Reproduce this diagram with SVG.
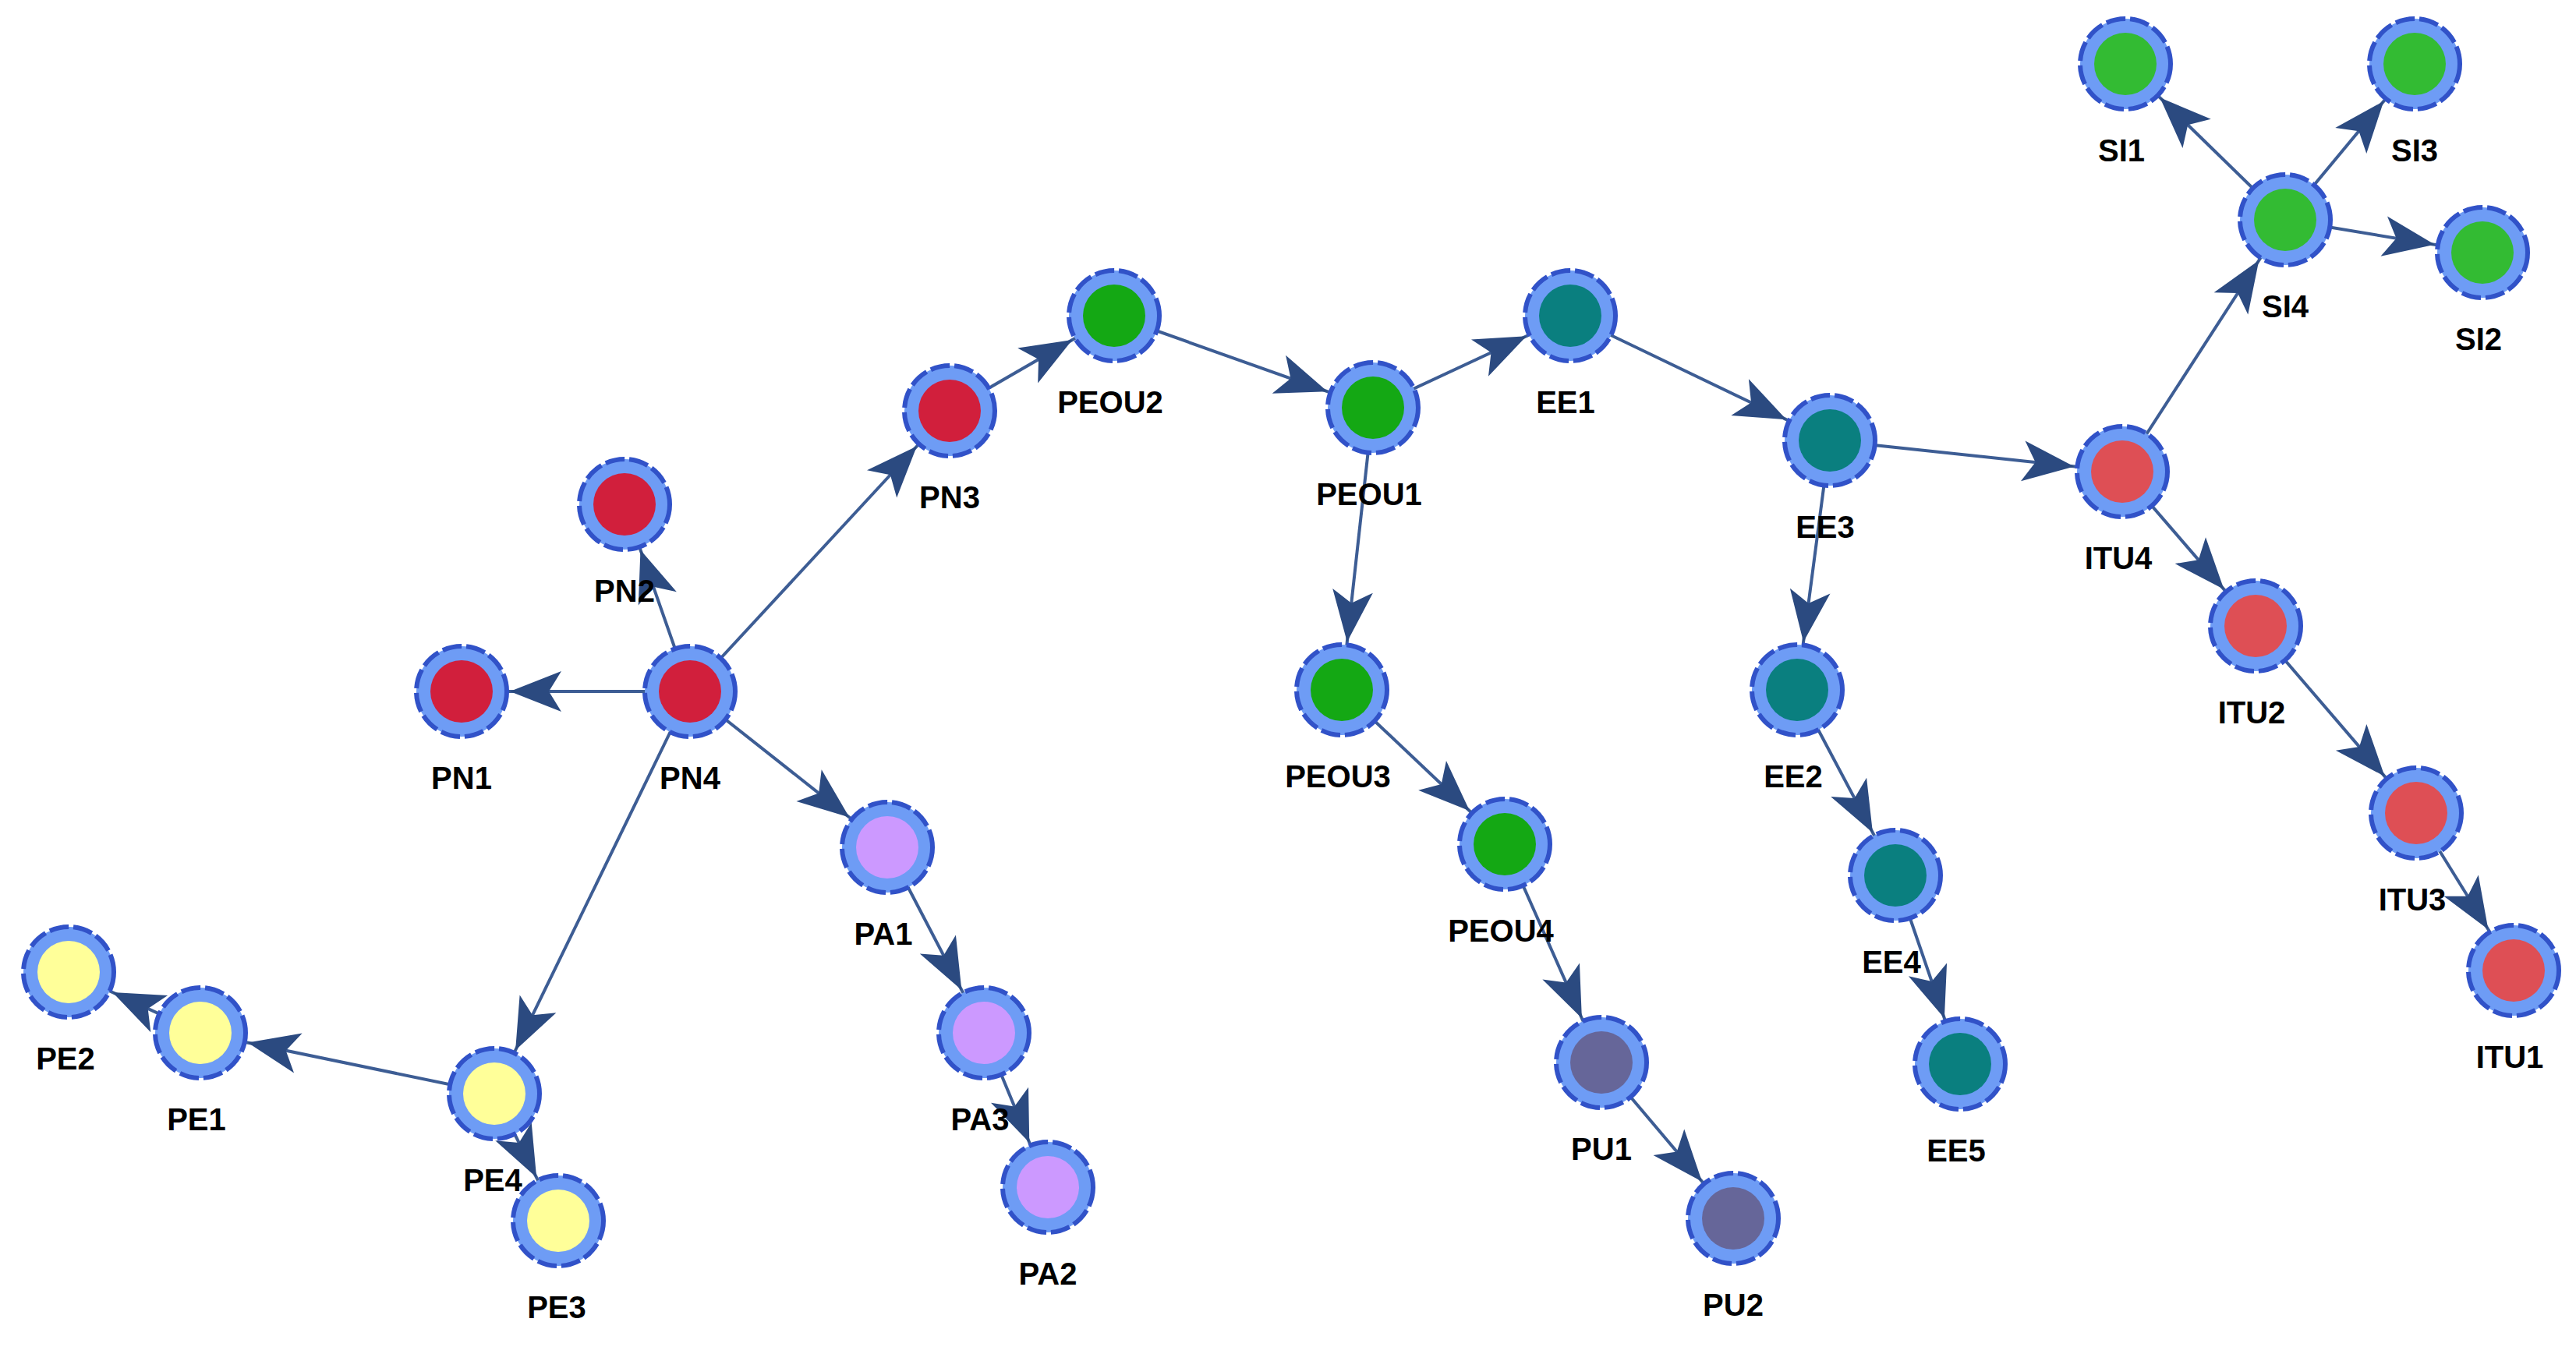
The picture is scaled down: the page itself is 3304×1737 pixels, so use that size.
<svg xmlns="http://www.w3.org/2000/svg" width="3304" height="1737" viewBox="0 0 3304 1737">
<style>
.e{stroke:#3d5d94;stroke-width:4;fill:none;marker-end:url(#a)}
.o{fill:#6e9cf5;stroke:#3152c8;stroke-width:6;stroke-dasharray:25 6}
.t{font-family:"Liberation Sans",Arial,sans-serif;font-weight:bold;font-size:40px;text-anchor:middle;fill:#000}
</style>
<defs>
<marker id="a" markerUnits="userSpaceOnUse" markerWidth="10" markerHeight="10" orient="auto" overflow="visible" refX="0" refY="0">
<path d="M-128,-26 L-62,0 L-128,26 L-112,0 Z" fill="#2b4a80"/>
</marker>
<symbol id="n" overflow="visible"><circle class="o" r="58"/></symbol>
</defs>
<rect width="3304" height="1737" fill="#fff"/>
<g id="connectors">
<line class="e" x1="885" y1="887" x2="592" y2="887"/>
<line class="e" x1="885" y1="887" x2="801" y2="647"/>
<line class="e" x1="885" y1="887" x2="1218" y2="527"/>
<line class="e" x1="885" y1="887" x2="1138" y2="1087"/>
<line class="e" x1="885" y1="887" x2="634" y2="1403"/>
<line class="e" x1="1218" y1="527" x2="1429" y2="405"/>
<line class="e" x1="1429" y1="405" x2="1761" y2="523"/>
<line class="e" x1="1761" y1="523" x2="2014" y2="405"/>
<line class="e" x1="1761" y1="523" x2="1721" y2="885"/>
<line class="e" x1="1721" y1="885" x2="1930" y2="1083"/>
<line class="e" x1="1930" y1="1083" x2="2054" y2="1363"/>
<line class="e" x1="2054" y1="1363" x2="2223" y2="1563"/>
<line class="e" x1="2014" y1="405" x2="2347" y2="565"/>
<line class="e" x1="2347" y1="565" x2="2722" y2="605"/>
<line class="e" x1="2347" y1="565" x2="2305" y2="885"/>
<line class="e" x1="2305" y1="885" x2="2431" y2="1123"/>
<line class="e" x1="2431" y1="1123" x2="2514" y2="1365"/>
<line class="e" x1="2722" y1="605" x2="2931" y2="282"/>
<line class="e" x1="2722" y1="605" x2="2893" y2="803"/>
<line class="e" x1="2893" y1="803" x2="3099" y2="1043"/>
<line class="e" x1="3099" y1="1043" x2="3224" y2="1245"/>
<line class="e" x1="2931" y1="282" x2="2726" y2="82"/>
<line class="e" x1="2931" y1="282" x2="3097" y2="82"/>
<line class="e" x1="2931" y1="282" x2="3184" y2="324"/>
<line class="e" x1="1138" y1="1087" x2="1262" y2="1325"/>
<line class="e" x1="1262" y1="1325" x2="1344" y2="1523"/>
<line class="e" x1="634" y1="1403" x2="257" y2="1325"/>
<line class="e" x1="634" y1="1403" x2="716" y2="1566"/>
<line class="e" x1="257" y1="1325" x2="88" y2="1247"/>
</g>
<g id="PN1"><use href="#n" x="592" y="887"/><circle cx="592" cy="887" r="40" fill="#d11f3c"/><text class="t" x="592" y="1012">PN1</text></g>
<g id="PN2"><use href="#n" x="801" y="647"/><circle cx="801" cy="647" r="40" fill="#d11f3c"/><text class="t" x="801" y="772">PN2</text></g>
<g id="PN3"><use href="#n" x="1218" y="527"/><circle cx="1218" cy="527" r="40" fill="#d11f3c"/><text class="t" x="1218" y="652">PN3</text></g>
<g id="PN4"><use href="#n" x="885" y="887"/><circle cx="885" cy="887" r="40" fill="#d11f3c"/><text class="t" x="885" y="1012">PN4</text></g>
<g id="PEOU2"><use href="#n" x="1429" y="405"/><circle cx="1429" cy="405" r="40" fill="#14a814"/><text class="t" x="1424" y="530">PEOU2</text></g>
<g id="PEOU1"><use href="#n" x="1761" y="523"/><circle cx="1761" cy="523" r="40" fill="#14a814"/><text class="t" x="1756" y="648">PEOU1</text></g>
<g id="PEOU3"><use href="#n" x="1721" y="885"/><circle cx="1721" cy="885" r="40" fill="#14a814"/><text class="t" x="1716" y="1010">PEOU3</text></g>
<g id="PEOU4"><use href="#n" x="1930" y="1083"/><circle cx="1930" cy="1083" r="40" fill="#14a814"/><text class="t" x="1925" y="1208">PEOU4</text></g>
<g id="PU1"><use href="#n" x="2054" y="1363"/><circle cx="2054" cy="1363" r="40" fill="#666699"/><text class="t" x="2054" y="1488">PU1</text></g>
<g id="PU2"><use href="#n" x="2223" y="1563"/><circle cx="2223" cy="1563" r="40" fill="#666699"/><text class="t" x="2223" y="1688">PU2</text></g>
<g id="EE1"><use href="#n" x="2014" y="405"/><circle cx="2014" cy="405" r="40" fill="#0a7f7f"/><text class="t" x="2008" y="530">EE1</text></g>
<g id="EE3"><use href="#n" x="2347" y="565"/><circle cx="2347" cy="565" r="40" fill="#0a7f7f"/><text class="t" x="2341" y="690">EE3</text></g>
<g id="EE2"><use href="#n" x="2305" y="885"/><circle cx="2305" cy="885" r="40" fill="#0a7f7f"/><text class="t" x="2300" y="1010">EE2</text></g>
<g id="EE4"><use href="#n" x="2431" y="1123"/><circle cx="2431" cy="1123" r="40" fill="#0a7f7f"/><text class="t" x="2426" y="1248">EE4</text></g>
<g id="EE5"><use href="#n" x="2514" y="1365"/><circle cx="2514" cy="1365" r="40" fill="#0a7f7f"/><text class="t" x="2509" y="1490">EE5</text></g>
<g id="ITU4"><use href="#n" x="2722" y="605"/><circle cx="2722" cy="605" r="40" fill="#de4f55"/><text class="t" x="2717" y="730">ITU4</text></g>
<g id="ITU2"><use href="#n" x="2893" y="803"/><circle cx="2893" cy="803" r="40" fill="#de4f55"/><text class="t" x="2888" y="928">ITU2</text></g>
<g id="ITU3"><use href="#n" x="3099" y="1043"/><circle cx="3099" cy="1043" r="40" fill="#de4f55"/><text class="t" x="3094" y="1168">ITU3</text></g>
<g id="ITU1"><use href="#n" x="3224" y="1245"/><circle cx="3224" cy="1245" r="40" fill="#de4f55"/><text class="t" x="3219" y="1370">ITU1</text></g>
<g id="SI4"><use href="#n" x="2931" y="282"/><circle cx="2931" cy="282" r="40" fill="#33bb33"/><text class="t" x="2931" y="407">SI4</text></g>
<g id="SI1"><use href="#n" x="2726" y="82"/><circle cx="2726" cy="82" r="40" fill="#33bb33"/><text class="t" x="2721" y="207">SI1</text></g>
<g id="SI3"><use href="#n" x="3097" y="82"/><circle cx="3097" cy="82" r="40" fill="#33bb33"/><text class="t" x="3097" y="207">SI3</text></g>
<g id="SI2"><use href="#n" x="3184" y="324"/><circle cx="3184" cy="324" r="40" fill="#33bb33"/><text class="t" x="3179" y="449">SI2</text></g>
<g id="PA1"><use href="#n" x="1138" y="1087"/><circle cx="1138" cy="1087" r="40" fill="#cc99ff"/><text class="t" x="1133" y="1212">PA1</text></g>
<g id="PA3"><use href="#n" x="1262" y="1325"/><circle cx="1262" cy="1325" r="40" fill="#cc99ff"/><text class="t" x="1257" y="1450">PA3</text></g>
<g id="PA2"><use href="#n" x="1344" y="1523"/><circle cx="1344" cy="1523" r="40" fill="#cc99ff"/><text class="t" x="1344" y="1648">PA2</text></g>
<g id="PE4"><use href="#n" x="634" y="1403"/><circle cx="634" cy="1403" r="40" fill="#ffff99"/><text class="t" x="632" y="1528">PE4</text></g>
<g id="PE1"><use href="#n" x="257" y="1325"/><circle cx="257" cy="1325" r="40" fill="#ffff99"/><text class="t" x="252" y="1450">PE1</text></g>
<g id="PE2"><use href="#n" x="88" y="1247"/><circle cx="88" cy="1247" r="40" fill="#ffff99"/><text class="t" x="84" y="1372">PE2</text></g>
<g id="PE3"><use href="#n" x="716" y="1566"/><circle cx="716" cy="1566" r="40" fill="#ffff99"/><text class="t" x="714" y="1691">PE3</text></g>
</svg>
